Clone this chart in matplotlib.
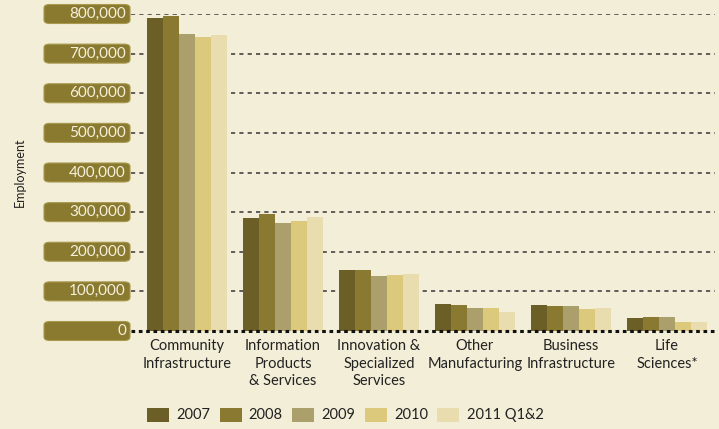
import matplotlib.pyplot as plt
from matplotlib.patches import FancyBboxPatch
import numpy as np

categories = ["Community\nInfrastructure", "Information\nProducts\n& Services",
              "Innovation &\nSpecialized\nServices", "Other\nManufacturing",
              "Business\nInfrastructure", "Life\nSciences*"]
series_names = ["2007", "2008", "2009", "2010", "2011 Q1&2"]
emp_2007 = [790000, 285000, 155000, 69000, 66000, 33000]
emp_2008 = [796000, 296000, 153000, 66000, 63000, 36000]
emp_2009 = [750000, 273000, 140000, 58000, 63000, 36000]
emp_2010 = [742000, 278000, 142000, 58000, 56000, 23000]
emp_2011 = [747000, 288000, 145000, 48000, 58000, 23000]
yticks = [0, 100000, 200000, 300000, 400000, 500000, 600000, 700000, 800000]

#define colors
bg = "#f3eed7"
colors = ["#6b5e26", "#8a7930", "#aba06c", "#dcc97c", "#e9ddb0"]
pill = "#8a7a2f"

plt.rcParams["font.family"] = ["Lato", "DejaVu Sans"]

fig = plt.figure(figsize=(7.19, 4.29), dpi=100, facecolor=bg)
W, H = 719, 429
ax = fig.add_axes([131 / W, 1 - 331 / H, (715 - 131) / W, (331 - 14) / H])
ax.set_facecolor(bg)

x = np.arange(len(categories))
width = 1 / 6
all_series = [emp_2007, emp_2008, emp_2009, emp_2010, emp_2011]
for i, vals in enumerate(all_series):
    ax.bar(x - 2 * width + i * width, vals, width, color=colors[i],
           label=series_names[i], zorder=3, linewidth=0)

ax.set_xlim(-0.583, 5.5)
ax.set_ylim(0, 800000)

#dotted grid lines
for t in yticks[1:]:
    ax.axhline(t, color="#444444", lw=1.2, ls=(0, (2.5, 2.5)), zorder=1)
ax.axhline(0, color="#111111", lw=2.2, ls=(0, (1.2, 1.2)), zorder=4, clip_on=False)

for s in ax.spines.values():
    s.set_visible(False)
ax.set_yticks([])
ax.set_xticks(x)
ax.set_xticklabels(categories, fontsize=10.5, color="#222222", linespacing=1.3)
ax.tick_params(axis="x", length=0, pad=6)

#pill labels for y axis
for t in yticks:
    yfig = 1 - (331 - t / 800000 * (331 - 14)) / H
    box = FancyBboxPatch((44 / W, yfig - 9.5 / H), 86 / W, 19 / H,
                         boxstyle="round,pad=0,rounding_size=0.008",
                         transform=fig.transFigure, facecolor=pill,
                         edgecolor="#a8994f", lw=0.8)
    fig.patches.append(box)
    fig.text(126 / W, yfig, f"{t:,}", ha="right", va="center",
             fontsize=11, color="#f5f0dc")

fig.text(20 / W, 1 - 172 / H, "Employment", rotation=90, ha="center",
         va="center", fontsize=9, color="#222222")

fig.legend(loc="center left", bbox_to_anchor=(147 / W, 1 - 415 / H), ncol=5,
           frameon=False, fontsize=10.5, handlelength=1.5, handleheight=1.1,
           handletextpad=0.5, columnspacing=0.65, borderpad=0, borderaxespad=0,
           labelcolor="#222222")

fig.savefig("out.png", dpi=100, facecolor=bg)
